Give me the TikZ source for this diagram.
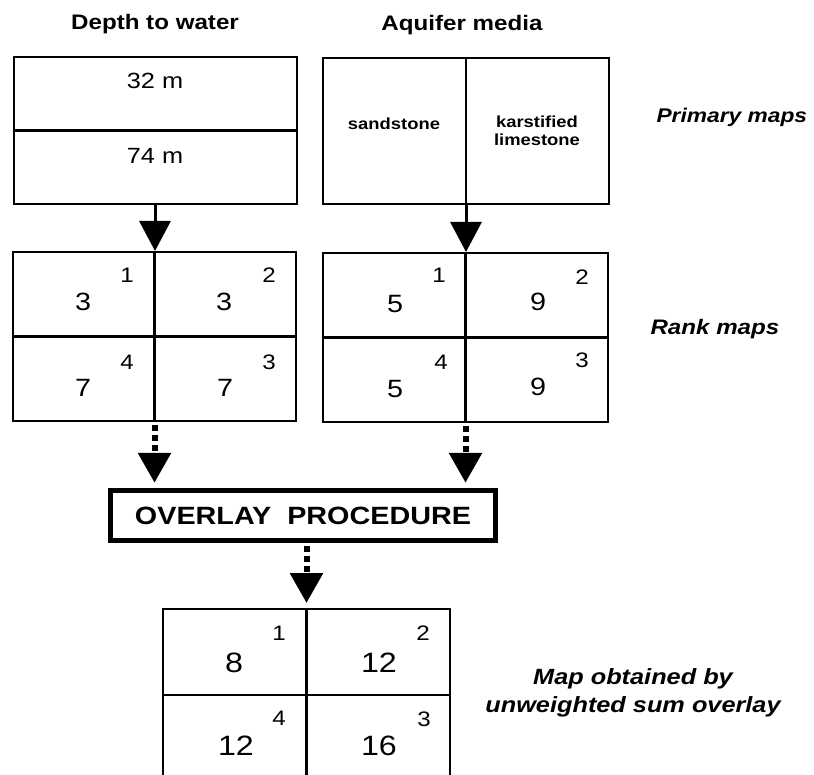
\documentclass[tikz,border=0pt]{standalone}
\usepackage{fontspec}
\setmainfont{Liberation Sans}[FakeStretch=1.15]
\usetikzlibrary{arrows.meta}

\tikzset{
    mapa/.style={draw, line width=2pt, inner sep=0pt},
    division/.style={line width=2.8pt},
    titulo/.style={font=\bfseries\fontsize{21}{24}\selectfont, anchor=base},
    rotulo/.style={font=\bfseries\itshape\fontsize{21}{24}\selectfont, anchor=base west},
    valor/.style={font=\fontsize{22}{24}\selectfont, inner sep=0pt},
    litologia/.style={font=\bfseries\fontsize{16}{18}\selectfont, align=center, inner sep=0pt},
    rango/.style={font=\fontsize{25}{26}\selectfont, inner sep=0pt},
    celda/.style={font=\fontsize{21}{22}\selectfont, inner sep=0pt},
    suma/.style={font=\fontsize{28}{30}\selectfont, inner sep=0pt},
    flecha/.style={line width=3pt, -{Triangle[width=31pt, length=30pt]}},
    punteada/.style={line width=6pt, dash pattern=on 6pt off 4pt, shorten <=3pt, shorten >=5pt,
        -{Triangle[width=32pt, length=30pt]}}
}

\begin{document}
\begin{tikzpicture}[x=1pt, y=-1pt]
    % Marco de la figura (la parte baja del mapa final queda cortada)
    \clip (0,0) rectangle (814,775);

    % Títulos de las columnas
    \node[titulo] (tprof) at (155,30) {Depth to water};
    \node[titulo] (tacui) at (462,31) {Aquifer media};

    % Mapas primarios
    \node[mapa, minimum width=283pt, minimum height=147pt] (prof) at (155,130.5) {};
    \draw[division] (prof.west) -- (prof.east);
    \node[valor] (v32) at (155,80.5) {32 m};
    \node[valor] (v74) at (155,155.5) {74 m};

    \node[mapa, minimum width=286pt, minimum height=146pt] (acui) at (466,131) {};
    \draw[division] (acui.north) -- (acui.south);
    \node[litologia] (arenisca) at (394,124) {sandstone};
    \node[litologia] (caliza) at (537,131) {karstified\\limestone};

    \node[rotulo, font=\bfseries\itshape\fontsize{19.8}{24}\selectfont] (rprim) at (653,123) {Primary maps};

    % Mapas de rangos
    \node[mapa, minimum width=283pt, minimum height=169pt] (rprof) at (154.5,336.5) {};
    \draw[division] (rprof.west) -- (rprof.east);
    \draw[line width=2.2pt] (rprof.north) -- (rprof.south);
    \node[rango] at (83,302) {3};   \node[celda] at (127,275) {1};
    \node[rango] at (224,302) {3};  \node[celda] at (269,275) {2};
    \node[rango] at (83,388) {7};   \node[celda] at (127,362) {4};
    \node[rango] at (225,388) {7};  \node[celda] at (269,362) {3};

    \node[mapa, minimum width=285pt, minimum height=169pt] (racui) at (465.5,337.5) {};
    \draw[division] (racui.west) -- (racui.east);
    \draw[line width=2.2pt] (racui.north) -- (racui.south);
    \node[rango] at (395,304) {5};  \node[celda] at (439,275) {1};
    \node[rango] at (538,302) {9};  \node[celda] at (582,277) {2};
    \node[rango] at (395,389) {5};  \node[celda] at (441,362) {4};
    \node[rango] at (538,387) {9};  \node[celda] at (582,360) {3};

    \node[rotulo] (rrango) at (647,335) {Rank maps};

    % Flechas hacia los mapas de rangos
    \draw[flecha] (prof.south) -- (prof.south |- rprof.north);
    \draw[flecha] (acui.south) -- (acui.south |- racui.north);

    % Procedimiento de superposición
    \node[draw, line width=5.5pt, minimum width=385pt, minimum height=50pt, inner sep=0pt,
        font=\bfseries\fontsize{25}{26}\selectfont] (sup) at (303,515.5) {OVERLAY\ \ PROCEDURE};
    \draw[punteada] (rprof.south) -- (rprof.south |- sup.north);
    \draw[punteada] (racui.south) -- (racui.south |- sup.north);

    % Mapa obtenido por suma
    \node[mapa, minimum width=287pt, minimum height=172pt] (res) at (306.5,695) {};
    \draw[division] (res.west) -- (res.east);
    \draw[line width=2.2pt] (res.north) -- (res.south);
    \draw[punteada] (res.north |- sup.south) -- (res.north);
    \node[suma] at (234,663) {8};   \node[celda] at (279,633) {1};
    \node[suma] at (379,663) {12};  \node[celda] at (423,633) {2};
    \node[suma] at (236,746) {12};  \node[celda] at (279,718) {4};
    \node[suma] at (379,746) {16};  \node[celda] at (424,719) {3};

    \node[font=\bfseries\itshape\fontsize{22}{28}\selectfont, align=center, inner sep=0pt]
        (rsuma) at (633,693) {Map obtained by\\unweighted sum overlay};
\end{tikzpicture}
\end{document}
